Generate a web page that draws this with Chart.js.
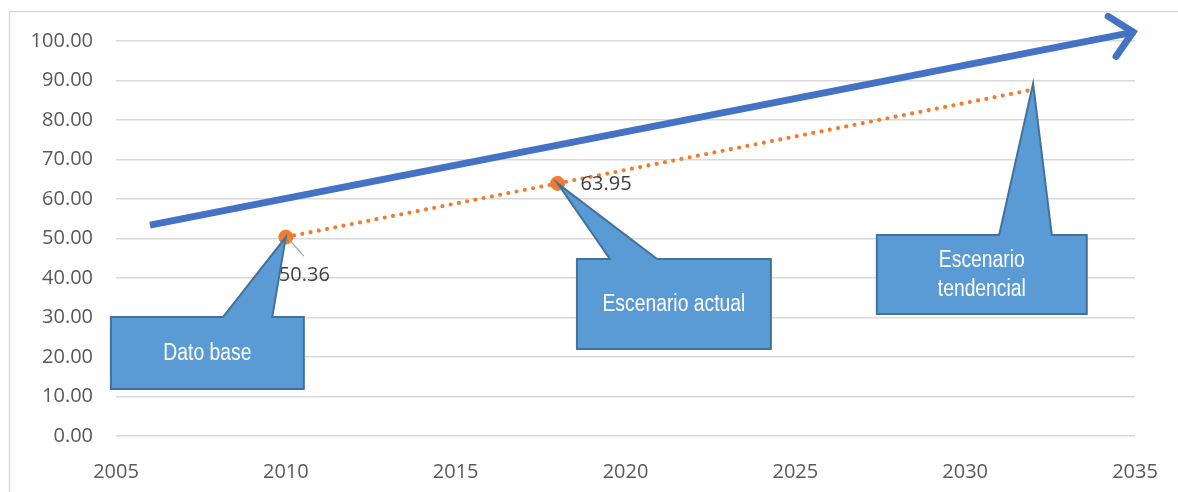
<!DOCTYPE html>
<html>
<head>
<meta charset="utf-8">
<script src="https://cdn.jsdelivr.net/npm/chart.js@4/dist/chart.umd.min.js"></script>
<style>
  html, body { margin: 0; padding: 0; background: #fff; }
  #wrap { width: 1178px; height: 492px; position: relative; }
</style>
</head>
<body>
<div id="wrap"><canvas id="escenarios"></canvas></div>
<script>
// datos
var años = [2010, 2018, 2032];
var valores = [50.36, 63.95, 87.7];
var etiquetas = ["50.36", "63.95", ""];
var flechaX = [2006, 2035];
var flechaY = [53.4, 102.3];
var ticksX = [2005, 2010, 2015, 2020, 2025, 2030, 2035];

// globos de texto (en unidades de los ejes)
var globos = [
  { texto: ["Dato base"], x0: 2004.85, x1: 2010.53, y0: 11.9, y1: 30.1, b0: 2008.15, b1: 2009.6, punta: 0 },
  { texto: ["Escenario actual"], x0: 2018.57, x1: 2024.28, y0: 22.0, y1: 44.8, b0: 2019.54, b1: 2020.93, punta: 1 },
  { texto: ["Escenario", "tendencial"], x0: 2027.4, x1: 2033.58, y0: 30.9, y1: 50.9, b0: 2031.0, b1: 2032.55, punta: 2, dy: 1 }
];

var fuente = "'Open Sans', 'Noto Sans', sans-serif";

var extras = {
  id: "extras",
  beforeDraw: function (chart) {
    var ctx = chart.ctx;
    ctx.save();
    ctx.fillStyle = "#fff";
    ctx.fillRect(0, 0, chart.width, chart.height);
    ctx.strokeStyle = "#d9d9d9";
    ctx.lineWidth = 1.5;
    ctx.strokeRect(9.5, 11.5, chart.width + 20, chart.height + 20);
    ctx.restore();
  },
  afterDatasetsDraw: function (chart) {
    var ctx = chart.ctx;
    var sx = chart.scales.x, sy = chart.scales.y;
    ctx.save();

    // punta de la flecha
    var ax0 = sx.getPixelForValue(flechaX[0]), ay0 = sy.getPixelForValue(flechaY[0]);
    var ax1 = sx.getPixelForValue(flechaX[1]), ay1 = sy.getPixelForValue(flechaY[1]);
    var ang = Math.atan2(ay1 - ay0, ax1 - ax0);
    ctx.strokeStyle = "#4472C4";
    ctx.lineWidth = 7;
    ctx.lineCap = "round";
    ctx.lineJoin = "miter";
    ctx.beginPath();
    ctx.moveTo(ax1 + 31 * Math.cos(ang + Math.PI - 0.72), ay1 + 31 * Math.sin(ang + Math.PI - 0.72));
    ctx.lineTo(ax1 - 2, ay1);
    ctx.lineTo(ax1 + 31 * Math.cos(ang + Math.PI + 0.72), ay1 + 31 * Math.sin(ang + Math.PI + 0.72));
    ctx.stroke();

    // linea guia de la etiqueta 50.36
    var p0x = sx.getPixelForValue(años[0]), p0y = sy.getPixelForValue(valores[0]);
    ctx.strokeStyle = "#a6a6a6";
    ctx.lineWidth = 1.2;
    ctx.lineCap = "butt";
    ctx.beginPath();
    ctx.moveTo(p0x + 3, p0y + 2);
    ctx.lineTo(p0x + 18, p0y + 19);
    ctx.stroke();

    // etiquetas de datos
    ctx.fillStyle = "#404040";
    ctx.font = "20px " + fuente;
    ctx.textBaseline = "middle";
    ctx.textAlign = "left";
    ctx.fillText(etiquetas[0], p0x - 7, p0y + 38);
    var p1x = sx.getPixelForValue(años[1]), p1y = sy.getPixelForValue(valores[1]);
    ctx.fillText(etiquetas[1], p1x + 23, p1y + 1);

    // globos
    globos.forEach(function (g) {
      var l = sx.getPixelForValue(g.x0), r = sx.getPixelForValue(g.x1);
      var t = sy.getPixelForValue(g.y1), b = sy.getPixelForValue(g.y0);
      var b0 = sx.getPixelForValue(g.b0), b1 = sx.getPixelForValue(g.b1);
      var tx = sx.getPixelForValue(años[g.punta]), ty = sy.getPixelForValue(valores[g.punta]) - (g.dy ? 6 : 0);
      ctx.beginPath();
      ctx.moveTo(l, t);
      ctx.lineTo(b0, t);
      ctx.lineTo(tx, ty);
      ctx.lineTo(b1, t);
      ctx.lineTo(r, t);
      ctx.lineTo(r, b);
      ctx.lineTo(l, b);
      ctx.closePath();
      ctx.fillStyle = "#5B9BD5";
      ctx.fill();
      ctx.strokeStyle = "#41719C";
      ctx.lineWidth = 2;
      ctx.lineJoin = "miter";
      ctx.stroke();

      // texto estrecho tipo Arial Narrow
      ctx.fillStyle = "#fff";
      ctx.font = "23px 'Liberation Sans', Arial, sans-serif";
      ctx.textAlign = "center";
      ctx.textBaseline = "middle";
      var cx = (l + r) / 2, cy = (t + b) / 2;
      var n = g.texto.length;
      g.texto.forEach(function (s, i) {
        ctx.save();
        ctx.translate(cx, cy + (i - (n - 1) / 2) * 29 + 1);
        ctx.scale(0.84, 1);
        ctx.fillText(s, 0, 0);
        ctx.restore();
      });
    });
    ctx.restore();
  }
};

var ctx = document.getElementById("escenarios").getContext("2d");
var escenarios = new Chart(ctx, {
  type: "line",
  data: {
    datasets: [{
      label: "Tendencia",
      data: flechaX.map(function (x, i) { return { x: x, y: flechaY[i] }; }),
      borderColor: "#4472C4",
      borderWidth: 7,
      borderCapStyle: "butt",
      pointRadius: 0,
      clip: false,
      order: 2
    }, {
      label: "Indicador",
      data: años.map(function (x, i) { return { x: x, y: valores[i] }; }),
      borderColor: "#ED7D31",
      borderWidth: 4.2,
      borderDash: [0, 8.4],
      borderCapStyle: "round",
      pointRadius: [7, 7, 0],
      pointBackgroundColor: "#ED7D31",
      pointBorderColor: "#ED7D31",
      pointBorderWidth: 1,
      tension: 0,
      clip: false,
      order: 1
    }]
  },
  options: {
    responsive: true,
    maintainAspectRatio: false,
    animation: false,
    layout: { padding: { top: 41, right: 43, left: 0, bottom: 0 } },
    plugins: {
      legend: { display: false },
      tooltip: { enabled: false }
    },
    scales: {
      x: {
        type: "linear",
        min: 2005,
        max: 2035,
        afterFit: function (s) { s.height = 56; },
        afterBuildTicks: function (s) { s.ticks = ticksX.map(function (v) { return { value: v }; }); },
        grid: { display: false },
        border: { display: false },
        ticks: {
          color: "#595959",
          font: { family: fuente, size: 20 },
          padding: 16,
          maxRotation: 0,
          callback: function (v) { return String(v); }
        }
      },
      y: {
        min: 0,
        max: 100,
        afterFit: function (s) { s.width = 116; },
        grid: { color: "#d9d9d9", lineWidth: 1.5, drawTicks: false },
        border: { display: false },
        ticks: {
          stepSize: 10,
          color: "#595959",
          font: { family: fuente, size: 20 },
          padding: 23,
          callback: function (v) { return v.toFixed(2); }
        }
      }
    }
  },
  plugins: [extras]
});
</script>
</body>
</html>
